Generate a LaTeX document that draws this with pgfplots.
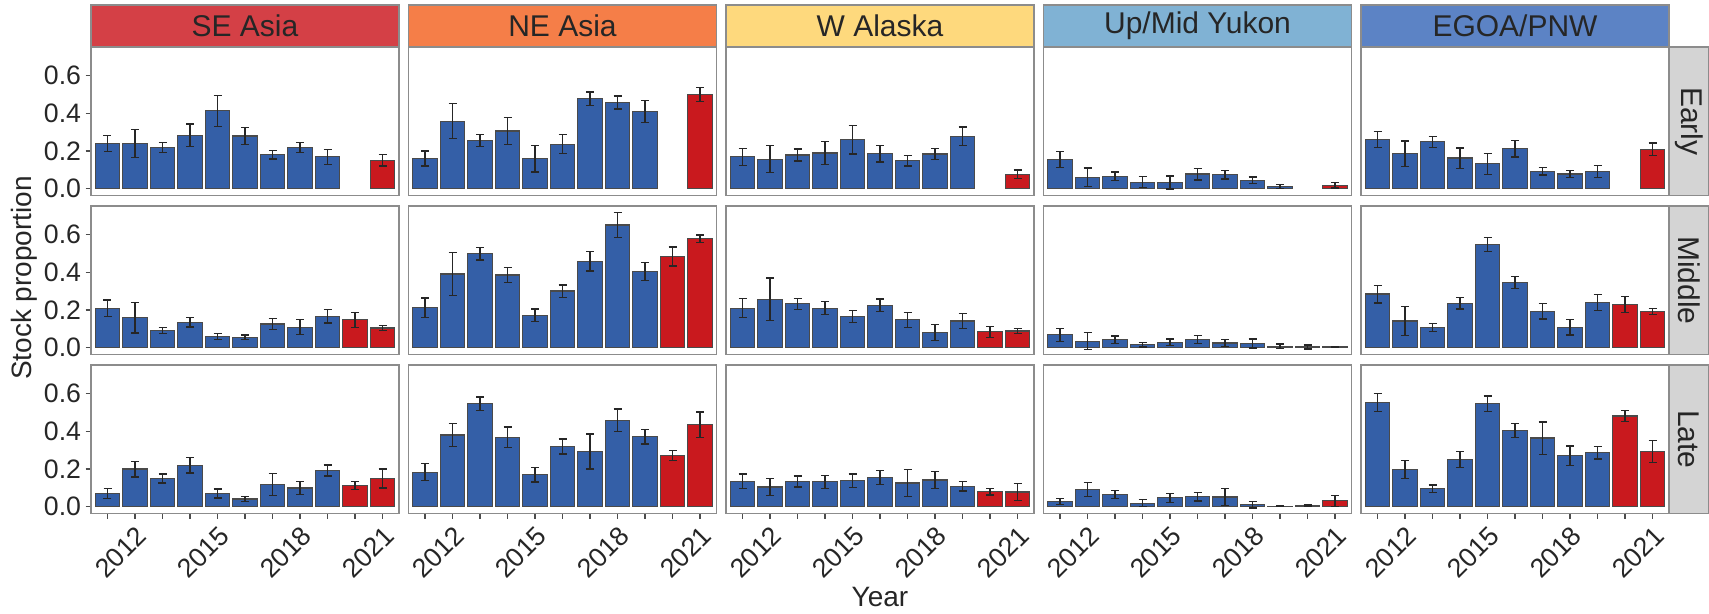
\documentclass[border=0pt]{standalone}
\usepackage{pgfplots}
\pgfplotsset{compat=1.18}
\usepackage{pgfplotstable}
\usepackage{fontspec}
\setmainfont{Liberation Sans}

\definecolor{barblue}{HTML}{345FA7}
\definecolor{barred}{HTML}{C9191E}
\definecolor{bargray}{HTML}{4A4A4A}
\definecolor{framegray}{HTML}{8C8C8C}
\definecolor{stripSE}{HTML}{D44046}
\definecolor{stripNE}{HTML}{F57E48}
\definecolor{stripWA}{HTML}{FED97D}
\definecolor{stripUY}{HTML}{80B2D4}
\definecolor{stripEG}{HTML}{5C83C5}
\definecolor{stripgray}{HTML}{D4D4D4}

% year, proportion, error (+/-)
\pgfplotstableread[row sep=\\]{x y e\\
2011 0.241 0.043\\ 2012 0.241 0.075\\ 2013 0.220 0.027\\ 2014 0.283 0.060\\
2015 0.414 0.082\\ 2016 0.280 0.045\\ 2017 0.181 0.023\\ 2018 0.219 0.025\\
2019 0.169 0.040\\ 2021 0.150 0.030\\}\seEarly
\pgfplotstableread[row sep=\\]{x y e\\
2011 0.210 0.044\\ 2012 0.159 0.080\\ 2013 0.091 0.016\\ 2014 0.136 0.026\\
2015 0.058 0.016\\ 2016 0.056 0.012\\ 2017 0.126 0.030\\ 2018 0.109 0.040\\
2019 0.167 0.036\\ 2020 0.148 0.039\\ 2021 0.105 0.014\\}\seMiddle
\pgfplotstableread[row sep=\\]{x y e\\
2011 0.070 0.026\\ 2012 0.200 0.042\\ 2013 0.150 0.024\\ 2014 0.220 0.040\\
2015 0.070 0.024\\ 2016 0.041 0.014\\ 2017 0.118 0.058\\ 2018 0.099 0.035\\
2019 0.192 0.029\\ 2020 0.113 0.021\\ 2021 0.150 0.050\\}\seLate

\pgfplotstableread[row sep=\\]{x y e\\
2011 0.161 0.040\\ 2012 0.359 0.092\\ 2013 0.256 0.033\\ 2014 0.307 0.072\\
2015 0.159 0.070\\ 2016 0.237 0.050\\ 2017 0.478 0.035\\ 2018 0.458 0.035\\
2019 0.410 0.057\\ 2021 0.501 0.038\\}\neEarly
\pgfplotstableread[row sep=\\]{x y e\\
2011 0.212 0.052\\ 2012 0.392 0.114\\ 2013 0.499 0.033\\ 2014 0.386 0.039\\
2015 0.173 0.033\\ 2016 0.301 0.033\\ 2017 0.460 0.052\\ 2018 0.652 0.065\\
2019 0.406 0.048\\ 2020 0.485 0.050\\ 2021 0.579 0.020\\}\neMiddle
\pgfplotstableread[row sep=\\]{x y e\\
2011 0.184 0.044\\ 2012 0.381 0.061\\ 2013 0.548 0.035\\ 2014 0.369 0.054\\
2015 0.169 0.038\\ 2016 0.320 0.040\\ 2017 0.293 0.093\\ 2018 0.460 0.060\\
2019 0.373 0.039\\ 2020 0.272 0.025\\ 2021 0.435 0.068\\}\neLate

\pgfplotstableread[row sep=\\]{x y e\\
2011 0.169 0.044\\ 2012 0.157 0.072\\ 2013 0.179 0.032\\ 2014 0.190 0.060\\
2015 0.260 0.076\\ 2016 0.186 0.044\\ 2017 0.148 0.027\\ 2018 0.184 0.028\\
2019 0.278 0.050\\ 2021 0.076 0.023\\}\waEarly
\pgfplotstableread[row sep=\\]{x y e\\
2011 0.210 0.050\\ 2012 0.258 0.112\\ 2013 0.233 0.030\\ 2014 0.210 0.035\\
2015 0.165 0.031\\ 2016 0.225 0.033\\ 2017 0.148 0.039\\ 2018 0.080 0.043\\
2019 0.142 0.039\\ 2020 0.085 0.029\\ 2021 0.089 0.012\\}\waMiddle
\pgfplotstableread[row sep=\\]{x y e\\
2011 0.136 0.038\\ 2012 0.105 0.045\\ 2013 0.134 0.029\\ 2014 0.132 0.035\\
2015 0.138 0.035\\ 2016 0.155 0.036\\ 2017 0.126 0.071\\ 2018 0.142 0.045\\
2019 0.109 0.026\\ 2020 0.080 0.018\\ 2021 0.078 0.045\\}\waLate

\pgfplotstableread[row sep=\\]{x y e\\
2011 0.155 0.042\\ 2012 0.060 0.050\\ 2013 0.066 0.023\\ 2014 0.035 0.030\\
2015 0.033 0.034\\ 2016 0.078 0.031\\ 2017 0.074 0.023\\ 2018 0.045 0.017\\
2019 0.012 0.012\\ 2021 0.019 0.015\\}\uyEarly
\pgfplotstableread[row sep=\\]{x y e\\
2011 0.068 0.035\\ 2012 0.035 0.045\\ 2013 0.043 0.019\\ 2014 0.016 0.013\\
2015 0.029 0.018\\ 2016 0.045 0.021\\ 2017 0.025 0.019\\ 2018 0.023 0.024\\
2019 0.008 0.012\\ 2020 0.004 0.010\\ 2021 0.004 0.003\\}\uyMiddle
\pgfplotstableread[row sep=\\]{x y e\\
2011 0.027 0.017\\ 2012 0.091 0.037\\ 2013 0.064 0.022\\ 2014 0.019 0.019\\
2015 0.047 0.025\\ 2016 0.054 0.023\\ 2017 0.052 0.046\\ 2018 0.010 0.016\\
2019 0.002 0.002\\ 2020 0.008 0.004\\ 2021 0.031 0.030\\}\uyLate

\pgfplotstableread[row sep=\\]{x y e\\
2011 0.262 0.043\\ 2012 0.186 0.068\\ 2013 0.249 0.029\\ 2014 0.163 0.054\\
2015 0.132 0.055\\ 2016 0.212 0.043\\ 2017 0.093 0.021\\ 2018 0.078 0.020\\
2019 0.093 0.032\\ 2021 0.210 0.033\\}\egEarly
\pgfplotstableread[row sep=\\]{x y e\\
2011 0.285 0.047\\ 2012 0.142 0.078\\ 2013 0.107 0.021\\ 2014 0.237 0.031\\
2015 0.548 0.037\\ 2016 0.346 0.031\\ 2017 0.194 0.042\\ 2018 0.109 0.042\\
2019 0.241 0.043\\ 2020 0.229 0.042\\ 2021 0.192 0.016\\}\egMiddle
\pgfplotstableread[row sep=\\]{x y e\\
2011 0.553 0.048\\ 2012 0.198 0.047\\ 2013 0.095 0.021\\ 2014 0.252 0.043\\
2015 0.548 0.041\\ 2016 0.406 0.037\\ 2017 0.365 0.086\\ 2018 0.270 0.052\\
2019 0.287 0.034\\ 2020 0.482 0.029\\ 2021 0.293 0.059\\}\egLate

\pgfplotsset{
  panel/.style={
    scale only axis, width=92.4pt, height=44.55pt, anchor=north west,
    xmin=2010.4, xmax=2021.6, ymin=-0.036, ymax=0.753,
    xtick=\empty, ytick=\empty,
    axis line style={draw=framegray, line width=0.5pt},
    tick align=outside, major tick length=1.6pt, minor tick length=1.6pt,
    major tick style={draw=black!70, line width=0.4pt},
    minor tick style={draw=black!70, line width=0.4pt},
    xtick pos=bottom, ytick pos=left,
    tick label style={font=\fontsize{8}{9}\selectfont, text=black!85},
  },
  lefty/.style={
    ytick={0,0.2,0.4,0.6},
    yticklabel style={inner xsep=1.2pt,
      /pgf/number format/.cd, fixed, fixed zerofill, precision=1, assume math mode=true},
  },
  bottomx/.style={
    xtick={2012,2015,2018,2021},
    minor xtick={2011,2013,2014,2016,2017,2019,2020},
    xticklabel style={rotate=45, anchor=north east, inner sep=1pt,
      /pgf/number format/.cd, set thousands separator={}, assume math mode=true},
  },
  bars/.style={
    ybar, bar width=0.9, bar shift=0pt, draw=bargray, line width=0.35pt,
    error bars/y dir=both, error bars/y explicit,
    error bars/error bar style={line width=0.4pt, black!85},
    error bars/error mark options={rotate=90, mark size=1.2pt, line width=0.4pt, black!85},
  },
}

\newcommand\panel[4]{%
  \begin{axis}[panel, at={(#1,#2)}, #4]
    \addplot[bars, fill=barblue, restrict x to domain=2010:2019.5]
      table[x=x, y=y, y error=e] {#3};
    \addplot[bars, fill=barred, restrict x to domain=2019.5:2022]
      table[x=x, y=y, y error=e] {#3};
  \end{axis}}

\begin{document}
\begin{tikzpicture}
\path[use as bounding box] (0,0) rectangle (512.7pt,-184.2pt);

% facet strips
\foreach \cx/\lab/\col in {27.3pt/SE Asia/stripSE, 122.55pt/NE Asia/stripNE,
    217.8pt/W Alaska/stripWA, 313.05pt/Up\slash Mid Yukon/stripUY,
    408.3pt/EGOA\slash PNW/stripEG}{
  \filldraw[fill=\col, draw=framegray, line width=0.4pt]
    (\cx,-1.5pt) rectangle ++(92.4pt,-12.6pt);
  \node[font=\fontsize{9}{10}\selectfont, text=black!85]
    at ([xshift=46.2pt]\cx,-7.8pt) {\lab};
}
\foreach \ry/\lab in {-14.1pt/Early, -61.8pt/Middle, -109.5pt/Late}{
  \filldraw[fill=stripgray, draw=framegray, line width=0.4pt]
    (500.7pt,\ry) rectangle ++(12pt,-44.55pt);
  \node[rotate=-90, font=\fontsize{9}{10}\selectfont, text=black!85]
    at ([yshift=-22.3pt]506.7pt,\ry) {\lab};
}

% row 1
\panel{27.3pt}{-14.1pt}{\seEarly}{lefty}
\panel{122.55pt}{-14.1pt}{\neEarly}{}
\panel{217.8pt}{-14.1pt}{\waEarly}{}
\panel{313.05pt}{-14.1pt}{\uyEarly}{}
\panel{408.3pt}{-14.1pt}{\egEarly}{}
% row 2
\panel{27.3pt}{-61.8pt}{\seMiddle}{lefty}
\panel{122.55pt}{-61.8pt}{\neMiddle}{}
\panel{217.8pt}{-61.8pt}{\waMiddle}{}
\panel{313.05pt}{-61.8pt}{\uyMiddle}{}
\panel{408.3pt}{-61.8pt}{\egMiddle}{}
% row 3
\panel{27.3pt}{-109.5pt}{\seLate}{lefty, bottomx}
\panel{122.55pt}{-109.5pt}{\neLate}{bottomx}
\panel{217.8pt}{-109.5pt}{\waLate}{bottomx}
\panel{313.05pt}{-109.5pt}{\uyLate}{bottomx}
\panel{408.3pt}{-109.5pt}{\egLate}{bottomx}

\node[rotate=90, font=\fontsize{8.4}{9}\selectfont, text=black!85] at (7.2pt,-83.4pt) {Stock proportion};
\node[font=\fontsize{8.4}{9}\selectfont, text=black!85] at (264pt,-179.1pt) {Year};
\end{tikzpicture}
\end{document}
